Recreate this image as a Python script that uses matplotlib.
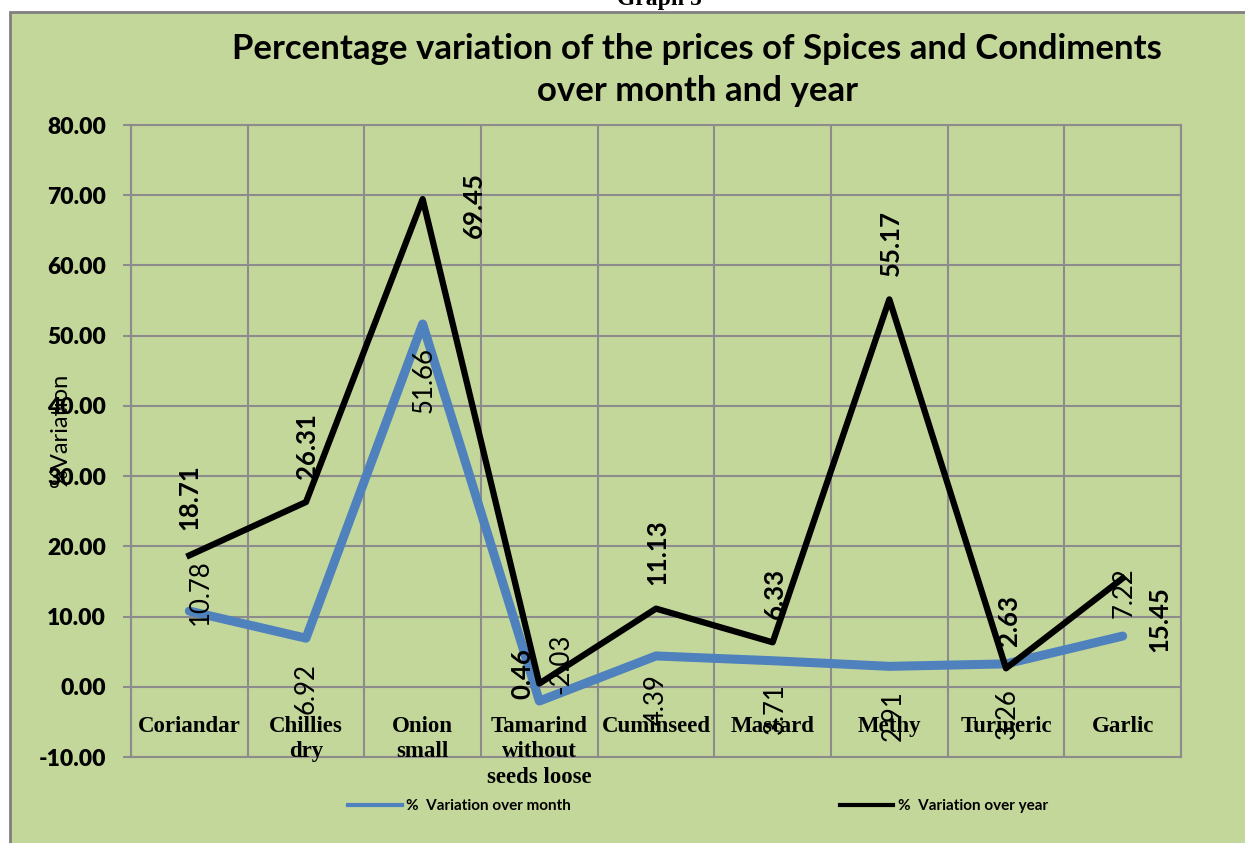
import matplotlib
matplotlib.use('Agg')
import matplotlib.pyplot as plt
from matplotlib.lines import Line2D
from matplotlib.patches import Rectangle

categories = ['Coriandar', 'Chillies\ndry', 'Onion\nsmall', 'Tamarind\nwithout\nseeds loose',
              'Cuminseed', 'Mastard', 'Methy', 'Turmeric', 'Garlic']
month = [10.78, 6.92, 51.66, -2.03, 4.39, 3.71, 2.91, 3.26, 7.22]
year = [18.71, 26.31, 69.45, 0.46, 11.13, 6.33, 55.17, 2.63, 15.45]
yticks = [-10, 0, 10, 20, 30, 40, 50, 60, 70, 80]

# label offsets in pixels (dx right, dy up) relative to each point
month_off = [(11, 19), (0, -50), (1, -56), (22, 37), (0, -44), (3, -48), (4, -49), (1, -50), (1, 43)]
year_off = [(0, 58), (1, 56), (51, -6), (-17, 10), (1, 56), (2, 49), (2, 56), (3, 48), (37, -41)]

BG = '#C4D79B'
GRID = '#8C8C8C'
SANS = 'Lato'

fig = plt.figure(figsize=(12.45, 8.43), dpi=100, facecolor='white')
fig.patches.append(Rectangle((10 / 1245, -0.01), 1, (843 - 12) / 843 + 0.01, transform=fig.transFigure,
                             facecolor=BG, edgecolor='#7F7F7F', linewidth=2, zorder=-1))
fig.text(0.53, 1.0, 'Graph 5', ha='center', va='center', fontsize=17, fontweight='bold',
         family='Liberation Serif')

ax = fig.add_axes([131 / 1245, 86 / 843, 1050 / 1245, 632 / 843])
ax.set_facecolor(BG)

x = list(range(len(categories)))
ax.plot(x, month, color='#4F81BD', linewidth=6.5, solid_capstyle='round', zorder=3)
ax.plot(x, year, color='black', linewidth=4.5, zorder=4)

for i, v in enumerate(month):
    dx, dy = month_off[i]
    ax.annotate('%.2f' % v, (i, v), xytext=(dx * 0.72, dy * 0.72), textcoords='offset points',
                rotation=90, ha='center', va='center', fontsize=18.5, family=SANS, zorder=5)
for i, v in enumerate(year):
    dx, dy = year_off[i]
    ax.annotate('%.2f' % v, (i, v), xytext=(dx * 0.72, dy * 0.72), textcoords='offset points',
                rotation=90, ha='center', va='center', fontsize=18.5, fontweight='bold',
                family=SANS, zorder=5)

for i, c in enumerate(categories):
    ax.text(i, -4.1, c, ha='center', va='top', fontsize=16.5, fontweight='bold',
            family='Liberation Serif', linespacing=1.28)

ax.set_xlim(-0.5, len(categories) - 0.5)
ax.set_ylim(-10, 80)
ax.set_yticks(yticks)
ax.set_yticklabels(['%.2f' % t for t in yticks], fontsize=16.5, fontweight='heavy', family=SANS)
ax.set_xticks([i + 0.5 for i in range(-1, len(categories))])
ax.set_xticklabels([])
ax.tick_params(axis='x', length=0)
ax.tick_params(axis='y', length=6, color=GRID, width=1.5, pad=12)
ax.grid(True, color=GRID, linewidth=1.5)
ax.set_axisbelow(True)
for s in ax.spines.values():
    s.set_color(GRID)
    s.set_linewidth(1.5)

ax.set_ylabel('%Variation', fontsize=17, family=SANS)
ax.yaxis.set_label_coords(-0.057, 0.517)

fig.text(0.56, 0.917, 'Percentage variation of the prices of Spices and Condiments\nover month and year',
         ha='center', va='center', fontsize=25, fontweight='bold', family=SANS, linespacing=1.35)

handles = [Line2D([], [], color='#4F81BD', linewidth=3), Line2D([], [], color='black', linewidth=3)]
fig.legend(handles, ['%  Variation over month', '%  Variation over year'], loc='center',
           bbox_to_anchor=(0.5607, 0.044), ncol=2, frameon=False, handlelength=3.5,
           handletextpad=0.3, columnspacing=17.6,
           prop={'family': SANS, 'weight': 'bold', 'size': 11})

fig.savefig('out.png', dpi=100, facecolor=fig.get_facecolor())
